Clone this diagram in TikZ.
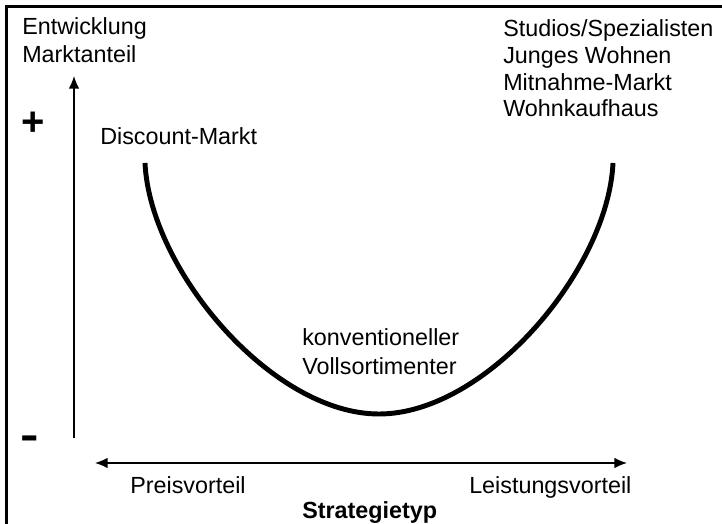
\documentclass[tikz,border=0pt]{standalone}
\usepackage{fontspec}
\setmainfont{Liberation Sans}
\usetikzlibrary{arrows.meta}
\begin{document}
\begin{tikzpicture}[x=0.75pt,y=-0.75pt,
  lbl/.style={anchor=base west,inner sep=0pt,font=\fontsize{17.5}{20}\selectfont},
  blbl/.style={anchor=base west,inner sep=0pt,font=\fontsize{17.5}{20}\selectfont\bfseries},
  axis/.style={line width=1.1pt,-{Latex[length=9.5pt,width=8pt]}},
  uline/.style={line width=3.7pt},
  frame/.style={line width=2.3pt}]
\useasboundingbox (0,0) rectangle (722,524);
% frame
\coordinate (fb) at (6.5,526);
\coordinate (fc) at (6.5,6.5);
\coordinate (fr) at (724,6.5);
\draw[frame] (fb) -- (fc) -- (fr);
% texts
\node[lbl] (ent1) at (22,35) {Entwicklung};
\node[lbl] (ent2) at (22,63) {Marktanteil};
\node[lbl] (disc) at (100,145) {Discount-Markt};
\node[lbl] (r1) at (503,37) {Studios/Spezialisten};
\node[lbl] (r2) at (503,64) {Junges Wohnen};
\node[lbl] (r3) at (503,91) {Mitnahme-Markt};
\node[lbl] (r4) at (503,117) {Wohnkaufhaus};
\node[lbl] (k1) at (302,345) {konventioneller};
\node[lbl] (k2) at (302,374) {Vollsortimenter};
\node[lbl] (preis) at (130,493) {Preisvorteil};
\node[lbl] (leist) at (469,493) {Leistungsvorteil};
\node[blbl] (strat) at (302,518) {Strategietyp};
\node[inner sep=0pt,font=\fontsize{30}{30}\selectfont\bfseries] (plus) at (33,124) {+};
\node[inner sep=0pt,font=\fontsize{32}{32}\selectfont\bfseries] (minus) at (30,443) {\scalebox{1.3}[1]{-}};
% axes
\coordinate (yb) at (74,438);
\coordinate (yt) at (74,76);
\draw[axis] (yb) -- (yt);
\coordinate (xl) at (95,463);
\coordinate (xr) at (627,463);
\draw[axis,{Latex[length=9.5pt,width=8pt]}-{Latex[length=9.5pt,width=8pt]}] (xl) -- (xr);
% U curve
\coordinate (cl) at (145,163);
\coordinate (cm) at (379,414);
\coordinate (cr) at (613,163);
\draw[uline] (cl) .. controls (150,270) and (272,414) .. (cm)
  .. controls (486,414) and (608,270) .. (cr);
\end{tikzpicture}
\end{document}
